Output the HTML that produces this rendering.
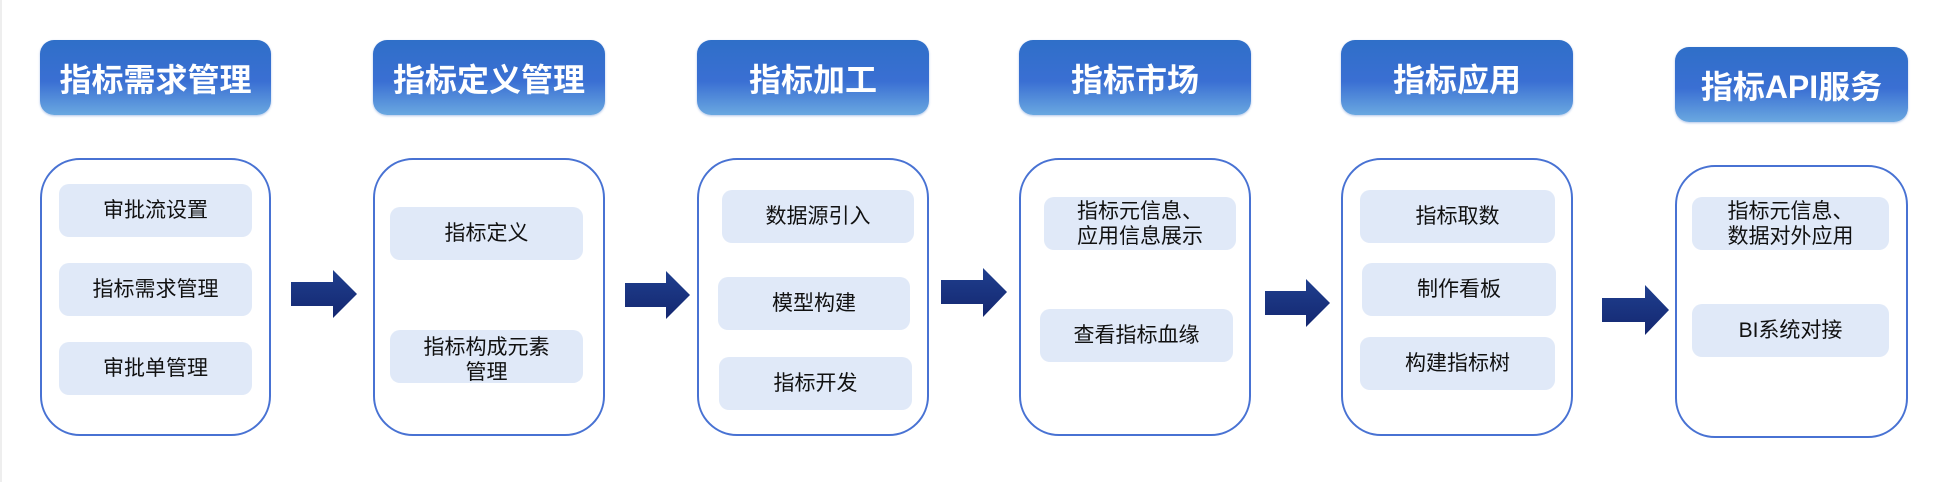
<!DOCTYPE html>
<html><head><meta charset="utf-8"><style>
body{margin:0;width:1934px;height:482px;background:#fff;position:relative;overflow:hidden;font-family:"Liberation Sans","Noto Sans CJK SC",sans-serif;}
.h{position:absolute;height:75px;border-radius:14px;background:linear-gradient(180deg,#2f6fc8 0%,#3a6fd3 55%,#6aa8e0 100%);color:#fff;font-weight:bold;font-size:32px;display:flex;align-items:center;justify-content:center;box-shadow:0 1px 2px rgba(60,110,200,.4);}
.b{position:absolute;top:158px;height:278px;border:2px solid #4872d3;border-radius:40px;box-sizing:border-box;}
.i{position:absolute;height:53px;background:#e0e9f8;border-radius:10px;display:flex;align-items:center;justify-content:center;text-align:center;font-size:21px;color:#111;line-height:25px;}
.a{position:absolute;}
</style></head><body>
<div style="position:absolute;left:0;top:0;width:2px;height:482px;background:#eee"></div>

<div class="h" style="left:40px;top:40px;width:231px">指标需求管理</div>
<div class="h" style="left:373px;top:40px;width:232px">指标定义管理</div>
<div class="h" style="left:697px;top:40px;width:232px">指标加工</div>
<div class="h" style="left:1019px;top:40px;width:232px">指标市场</div>
<div class="h" style="left:1341px;top:40px;width:232px">指标应用</div>
<div class="h" style="left:1675px;top:47px;width:233px">指标API服务</div>

<div class="b" style="left:40px;width:231px"></div>
<div class="b" style="left:373px;width:232px"></div>
<div class="b" style="left:697px;width:232px"></div>
<div class="b" style="left:1019px;width:232px"></div>
<div class="b" style="left:1341px;width:232px"></div>
<div class="b" style="left:1675px;top:165px;height:273px;width:233px"></div>

<div class="i" style="left:59px;top:184px;width:193px">审批流设置</div>
<div class="i" style="left:59px;top:263px;width:193px">指标需求管理</div>
<div class="i" style="left:59px;top:342px;width:193px">审批单管理</div>

<div class="i" style="left:390px;top:207px;width:193px">指标定义</div>
<div class="i" style="left:390px;top:330px;width:193px;padding-top:6px;box-sizing:border-box">指标构成元素<br>管理</div>

<div class="i" style="left:722px;top:190px;width:192px">数据源引入</div>
<div class="i" style="left:718px;top:277px;width:192px">模型构建</div>
<div class="i" style="left:719px;top:357px;width:193px">指标开发</div>

<div class="i" style="left:1044px;top:197px;width:192px">指标元信息、<br>应用信息展示</div>
<div class="i" style="left:1040px;top:309px;width:193px">查看指标血缘</div>

<div class="i" style="left:1360px;top:190px;width:195px">指标取数</div>
<div class="i" style="left:1362px;top:263px;width:194px">制作看板</div>
<div class="i" style="left:1360px;top:337px;width:195px">构建指标树</div>

<div class="i" style="left:1692px;top:197px;width:197px">指标元信息、<br>数据对外应用</div>
<div class="i" style="left:1692px;top:304px;width:197px">BI系统对接</div>

<svg class="a" style="left:0;top:0" width="1934" height="482">
<defs><linearGradient id="g" x1="0" y1="0" x2="0" y2="1"><stop offset="0" stop-color="#1f3f8e"/><stop offset="1" stop-color="#142770"/></linearGradient></defs>
<g fill="url(#g)">
<polygon points="291,282 333,282 333,270 357,294 333,318 333,306 291,306"/>
<polygon points="625,283 666,283 666,271 690,295 666,319 666,307 625,307"/>
<polygon points="941,280 983,280 983,268 1007,292 983,317 983,304 941,304"/>
<polygon points="1265,291 1306,291 1306,279 1330,303 1306,327 1306,315 1265,315"/>
<polygon points="1602,298 1645,298 1645,285 1669,310 1645,335 1645,322 1602,322"/>
</g>
</svg>
</body></html>
